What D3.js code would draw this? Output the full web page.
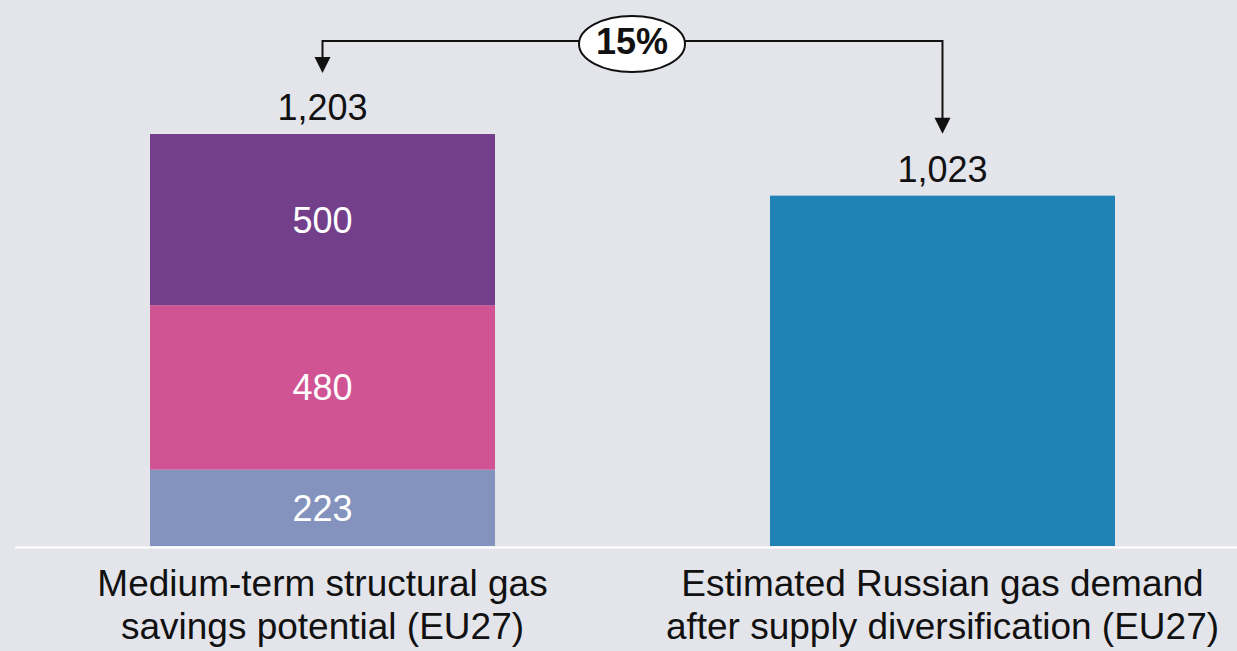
<!DOCTYPE html>
<html>
<head>
<meta charset="utf-8">
<script src="https://cdn.jsdelivr.net/npm/d3@7"></script>
<style>
  html, body { margin: 0; padding: 0; background: #e4e5ea; }
  svg { display: block; font-family: Arial, "Liberation Sans", sans-serif; }
</style>
</head>
<body>
<div id="chart"></div>
<script>
// categories (two lines each)
const categories = ['savings', 'demand']
const categoryLabels = [
  ['Medium-term structural gas', 'savings potential (EU27)'],
  ['Estimated Russian gas demand', 'after supply diversification (EU27)'],
]
// stacked segments of the first bar, bottom to top
const segmentValues = [223, 480, 500]
const segmentColors = ['#8493bd', '#d05393', '#743f8a']
// second bar
const demandValue = 1023
const demandColor = '#2183b5'
const totals = [d3.sum(segmentValues), demandValue]
const diffLabel = '15%'

const W = 1237, H = 651
const svg = d3.select('#chart').append('svg').attr('width', W).attr('height', H)

const x = d3.scaleBand().domain(categories).range([150, 1115]).paddingInner(0.4435).paddingOuter(0)
const y = d3.scaleLinear().domain([0, totals[0]]).range([546, 134])
const fmt = d3.format(',')

// stacked bar
let acc = 0
const segs = segmentValues.map((v, i) => {
  const s = { y0: acc, y1: acc + v, v, color: segmentColors[i] }
  acc += v
  return s
})
svg.append('g').selectAll('rect').data(segs).join('rect')
  .attr('x', x('savings')).attr('width', x.bandwidth())
  .attr('y', d => y(d.y1)).attr('height', d => y(d.y0) - y(d.y1))
  .attr('fill', d => d.color)
svg.append('g').selectAll('text').data(segs).join('text')
  .attr('x', x('savings') + x.bandwidth() / 2)
  .attr('y', d => (y(d.y0) + y(d.y1)) / 2)
  .attr('dy', '0.36em').attr('text-anchor', 'middle')
  .attr('fill', '#fff').style('font-size', '36px')
  .text(d => fmt(d.v))

// single bar
svg.append('rect')
  .attr('x', x('demand')).attr('width', x.bandwidth())
  .attr('y', y(demandValue)).attr('height', y(0) - y(demandValue))
  .attr('fill', demandColor)

// totals above bars
svg.append('g').selectAll('text').data(categories).join('text')
  .attr('x', d => x(d) + x.bandwidth() / 2)
  .attr('y', (d, i) => y(totals[i]) - 14)
  .attr('text-anchor', 'middle').attr('fill', '#111').style('font-size', '36px')
  .text((d, i) => fmt(totals[i]))

// baseline
svg.append('line').attr('x1', 15).attr('x2', W).attr('y1', y(0) + 1.5).attr('y2', y(0) + 1.5)
  .attr('stroke', '#fff').attr('stroke-width', 2)

// category labels
categoryLabels.forEach((lines, i) => {
  const cx = x(categories[i]) + x.bandwidth() / 2
  const t = svg.append('text')
    .attr('x', cx).attr('y', 596)
    .attr('text-anchor', 'middle').attr('fill', '#111').style('font-size', '37px')
  lines.forEach((ln, j) => t.append('tspan').attr('x', cx)
    .attr('dy', j === 0 ? 0 : 43).text(ln))
})

// difference bracket with arrows pointing down to each total
const cx1 = x('savings') + x.bandwidth() / 2
const cx2 = x('demand') + x.bandwidth() / 2
const topY = 41
const tip1 = y(totals[0]) - 61
const tip2 = y(demandValue) - 62
svg.append('path')
  .attr('d', `M${cx1},${tip1 - 10} V${topY} H${cx2} V${tip2 - 10}`)
  .attr('fill', 'none').attr('stroke', '#111').attr('stroke-width', 2)
function arrowHead(px, py) {
  svg.append('path').attr('d', `M${px - 8},${py - 16} L${px + 8},${py - 16} L${px},${py} Z`).attr('fill', '#111')
}
arrowHead(cx1, tip1)
arrowHead(cx2, tip2)

const ex = 632
svg.append('ellipse').attr('cx', ex).attr('cy', topY + 3).attr('rx', 53).attr('ry', 28)
  .attr('fill', '#fff').attr('stroke', '#111').attr('stroke-width', 2)
svg.append('text').attr('x', ex).attr('y', 54)
  .attr('text-anchor', 'middle').attr('fill', '#111')
  .style('font-size', '36px').style('font-weight', 'bold')
  .text(diffLabel)
</script>
</body>
</html>
